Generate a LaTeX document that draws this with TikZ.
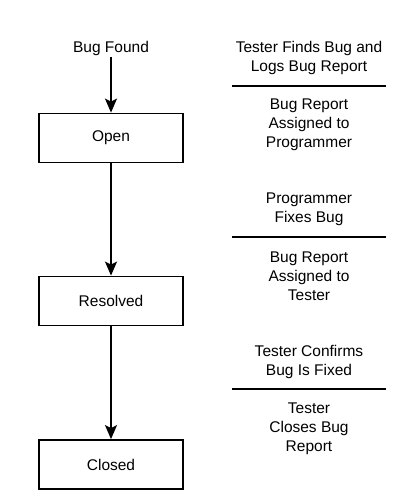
\documentclass[tikz,border=0pt]{standalone}
\usepackage{fontspec}
\setmainfont{Liberation Sans}
\usetikzlibrary{arrows.meta}
\begin{document}
\begin{tikzpicture}[x=1pt,y=-1pt,
  txt/.style={font=\fontsize{15.5}{19}\selectfont, align=center, inner sep=2pt},
  state/.style={draw, line width=1.8pt, minimum width=144pt, minimum height=49pt, inner sep=0pt, font=\fontsize{15.5}{19}\selectfont},
  flow/.style={line width=1.8pt, -{Stealth[length=14pt,width=12pt,inset=3pt]}},
  sep/.style={line width=2.4pt}]
\useasboundingbox (0,0) rectangle (409,498);
\node[txt] (found) at (111,48) {Bug Found};
\node[state] (open) at (111,138) {Open};
\node[state] (resolved) at (111,301) {Resolved};
\node[state] (closed) at (111,464.5) {Closed};
\draw[flow] (found.south) -- (open.north);
\draw[flow] (open.south) -- (resolved.north);
\draw[flow] (resolved.south) -- (closed.north);

\node[txt] (t1) at (309,58) {Tester Finds Bug and\\Logs Bug Report};
\coordinate (l1a) at (232,86); \coordinate (l1b) at (386,86);
\draw[sep] (l1a) -- (l1b);
\node[txt] (t2) at (309,125) {Bug Report\\Assigned to\\Programmer};
\node[txt] (t3) at (309,209) {Programmer\\Fixes Bug};
\coordinate (l2a) at (232,237); \coordinate (l2b) at (386,237);
\draw[sep] (l2a) -- (l2b);
\node[txt] (t4) at (309,276) {Bug Report\\Assigned to\\Tester};
\node[txt] (t5) at (309,361.5) {Tester Confirms\\Bug Is Fixed};
\coordinate (l3a) at (232,389); \coordinate (l3b) at (386,389);
\draw[sep] (l3a) -- (l3b);
\node[txt] (t6) at (309,429) {Tester\\Closes Bug\\Report};
\end{tikzpicture}
\end{document}
